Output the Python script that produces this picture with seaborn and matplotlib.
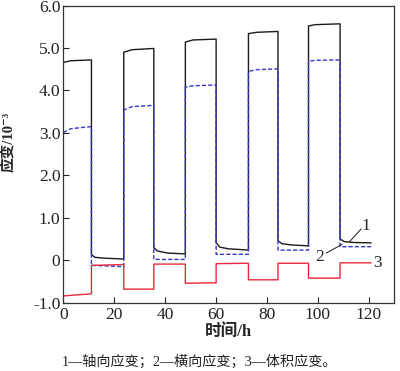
import pandas as pd
import matplotlib
matplotlib.use("Agg")
import matplotlib.pyplot as plt
import seaborn as sns

# time (h) and strain (10^-3)
axial_t = [0, 3, 11.1, 11.1, 12.5, 16, 23.8, 23.8, 27, 35.6, 35.6, 37, 41, 48,
           48, 51, 60.1, 60.1, 61.5, 65, 72.8, 72.8, 76, 84.4, 84.4, 86, 90, 96.4,
           96.4, 99, 108.8, 108.8, 110.5, 114, 121]
axial_v = [4.66, 4.70, 4.72, 0.13, 0.07, 0.05, 0.03, 4.90, 4.96, 4.99, 0.30, 0.22, 0.17, 0.15,
           5.14, 5.19, 5.21, 0.42, 0.31, 0.27, 0.24, 5.34, 5.37, 5.39, 0.46, 0.39, 0.36, 0.34,
           5.52, 5.55, 5.57, 0.50, 0.44, 0.42, 0.41]

lateral_t = [0, 3, 11.1, 11.1, 23.8, 23.8, 27, 35.6, 35.6, 48, 48, 51, 60.1, 60.1,
             72.8, 72.8, 76, 84.4, 84.4, 96.4, 96.4, 99, 108.8, 108.8, 121]
lateral_v = [3.01, 3.10, 3.15, -0.12, -0.15, 3.54, 3.62, 3.65, 0.02, 0.02, 4.08, 4.11, 4.13, 0.14,
             0.14, 4.45, 4.49, 4.51, 0.24, 0.24, 4.69, 4.71, 4.72, 0.32, 0.32]

volume_t = [0, 11.1, 11.1, 23.8, 23.8, 35.6, 35.6, 48, 48, 60.1, 60.1, 72.8, 72.8,
            84.4, 84.4, 96.4, 96.4, 108.8, 108.8, 121]
volume_v = [-0.84, -0.79, -0.12, -0.10, -0.68, -0.68, -0.09, -0.09, -0.54, -0.53, -0.08, -0.07,
            -0.46, -0.46, -0.07, -0.07, -0.42, -0.42, -0.06, -0.06]

x_ticks = [0, 20, 40, 60, 80, 100, 120]
y_ticks = [-1, 0, 1, 2, 3, 4, 5, 6]
y_ticklabels = ["-1.0", "0", "1.0", "2.0", "3.0", "4.0", "5.0", "6.0"]

sns.set_style("ticks")
plt.rcParams["font.family"] = ["Liberation Serif", "Noto Sans CJK SC", "DejaVu Serif"]

fig = plt.figure(figsize=(4.0, 3.71), dpi=100)
ax = fig.add_axes([0.158, 0.184, 0.827, 0.801])

df1 = pd.DataFrame({"t": axial_t, "v": axial_v})
df2 = pd.DataFrame({"t": lateral_t, "v": lateral_v})
df3 = pd.DataFrame({"t": volume_t, "v": volume_v})

sns.lineplot(data=df1, x="t", y="v", ax=ax, sort=False, estimator=None,
             color="#1a1a1a", lw=1.0)
sns.lineplot(data=df2, x="t", y="v", ax=ax, sort=False, estimator=None,
             color="#3535c8", lw=1.0, linestyle=(0, (3, 1.5)))
sns.lineplot(data=df3, x="t", y="v", ax=ax, sort=False, estimator=None,
             color="#e8283c", lw=1.0)

ax.set_xlim(0, 130)
ax.set_ylim(-1, 6)
ax.set_xticks(x_ticks)
ax.set_xticklabels([str(t) for t in x_ticks])
ax.set_yticks(y_ticks)
ax.set_yticklabels(y_ticklabels)
ax.tick_params(direction="in", length=4, width=0.8, labelsize=12.5, colors="#222222")
ax.tick_params(axis="x", pad=3)
ax.tick_params(axis="y", pad=2)
for s in ax.spines.values():
    s.set_linewidth(0.9)
    s.set_color("#333333")

ax.set_xlabel("时间/h", fontsize=12, fontweight="bold", labelpad=1)
ax.set_ylabel("应变/10⁻³", fontsize=10.5, fontweight="bold")
ax.yaxis.set_label_coords(-0.142, 0.54)

# curve labels with leader lines
ax.plot([112.4, 117.1], [0.43, 0.74], color="#1a1a1a", lw=0.7)
ax.text(119.0, 0.80, "1", fontsize=12.5, ha="center", va="center")
ax.plot([103.4, 109.7], [0.17, 0.38], color="#1a1a1a", lw=0.7)
ax.text(100.8, 0.08, "2", fontsize=12.5, ha="center", va="center")
ax.text(123.6, -0.07, "3", fontsize=12.5, ha="center", va="center")

fig.text(0.5, 0.024, "1—轴向应变；2—横向应变；3—体积应变。", fontsize=10.2,
         ha="center", va="center", color="#222222")

fig.savefig("out.png", dpi=100)
